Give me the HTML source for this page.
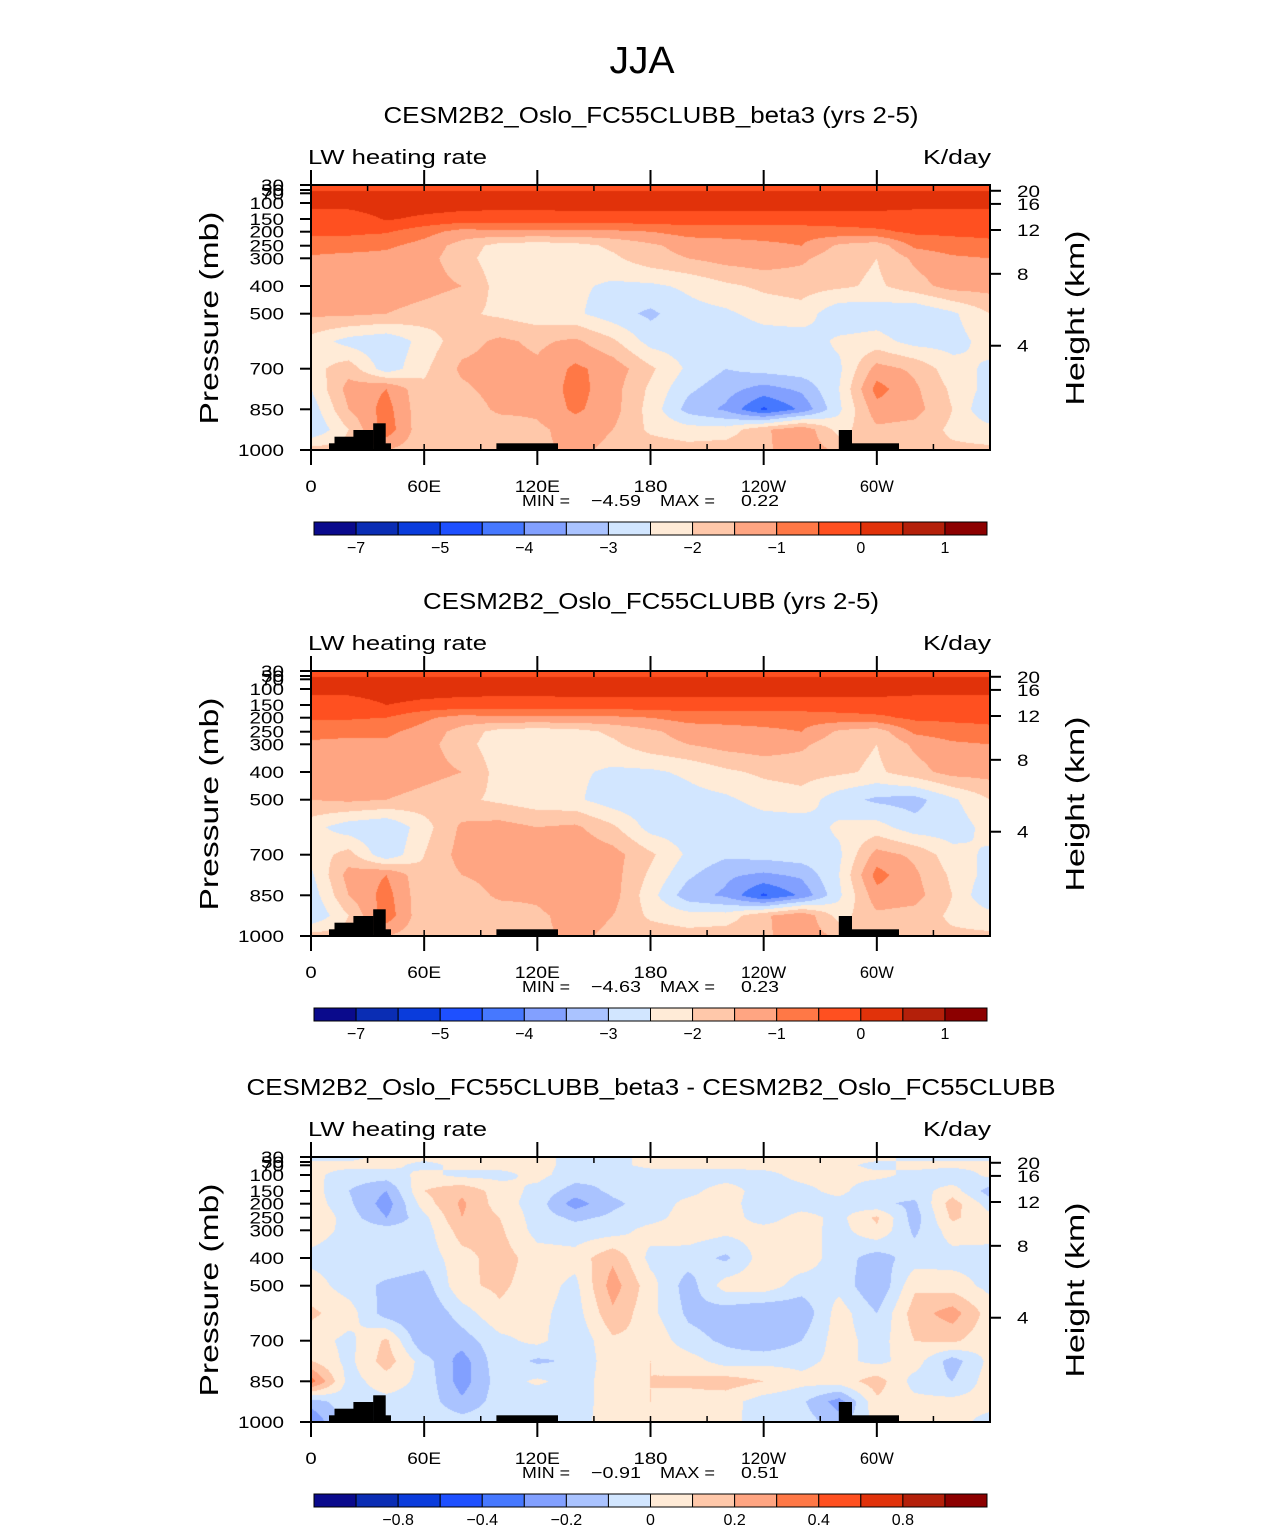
<!DOCTYPE html>
<html><head><meta charset="utf-8">
<style>
html,body{margin:0;padding:0;background:#fff;}
#page{position:relative;width:1285px;height:1531px;overflow:hidden;background:#fff;font-family:"Liberation Sans",sans-serif;}
canvas{position:absolute;}
svg{position:absolute;left:0;top:0;}
</style></head>
<body>
<div id="page">
<canvas id="c0" width="679" height="265" style="left:311px;top:185px"></canvas>
<canvas id="c1" width="679" height="265" style="left:311px;top:671px"></canvas>
<canvas id="c2" width="679" height="265" style="left:311px;top:1157px"></canvas>
<svg id="ov" width="1285" height="1531">
<text x="642" y="73" font-size="38" text-anchor="middle" textLength="65" lengthAdjust="spacingAndGlyphs">JJA</text>
</svg>
</div>
<script>
const lons=[0,20,40,60,80,100,120,140,160,180,200,220,240,260,280,300,320,340,360];
const pressures=[30,70,100,150,200,250,300,400,500,600,700,775,850,925,1000];
const levelsAbs=[-7,-6,-5,-4.5,-4,-3.5,-3,-2.5,-2,-1.5,-1,-0.5,0,0.5,1];
const levelsDiff=[-1,-0.8,-0.6,-0.4,-0.3,-0.2,-0.1,0,0.1,0.2,0.3,0.4,0.6,0.8,1];
const cbLabelsAbs=["-7","-5","-4","-3","-2","-1","0","1"];
const cbLabelIdxAbs=[1,3,5,7,9,11,13,15];
const cbLabelsDiff=["-0.8","-0.4","-0.2","0","0.2","0.4","0.8"];
const cbLabelIdxDiff=[2,4,6,8,10,12,14];
const xTickLabels=["0","60E","120E","180","120W","60W"];
const xTickLons=[0,60,120,180,240,300];
const pTickLabels=["30","50","70","100","150","200","250","300","400","500","700","850","1000"];
const pTickValues=[30,50,70,100,150,200,250,300,400,500,700,850,1000];
const hTickLabels=["20","16","12","8","4"];
const panelTitles=["CESM2B2_Oslo_FC55CLUBB_beta3 (yrs 2-5)","CESM2B2_Oslo_FC55CLUBB (yrs 2-5)","CESM2B2_Oslo_FC55CLUBB_beta3 - CESM2B2_Oslo_FC55CLUBB"];
const minVals=["\u22124.59","\u22124.63","\u22120.91"];
const maxVals=["0.22","0.23","0.51"];

const p1Values=[
[-0.3,-0.3,-0.3,-0.3,-0.3,-0.3,-0.3,-0.3,-0.3,-0.3,-0.3,-0.3,-0.3,-0.3,-0.3,-0.3,-0.3,-0.3,-0.3],
[0.15,0.15,0.15,0.15,0.15,0.15,0.15,0.15,0.15,0.15,0.15,0.15,0.15,0.15,0.15,0.15,0.15,0.15,0.15],
[0.2,0.2,0.3,0.25,0.2,0.2,0.2,0.2,0.2,0.2,0.2,0.2,0.2,0.2,0.2,0.2,0.2,0.2,0.2],
[-0.3,-0.3,0.05,-0.1,-0.2,-0.25,-0.25,-0.2,-0.2,-0.2,-0.2,-0.2,-0.2,-0.2,-0.2,-0.2,-0.3,-0.3,-0.3],
[-0.4,-0.4,-0.45,-0.8,-1.2,-1.1,-1.1,-1.1,-1.1,-1.0,-0.8,-0.8,-0.8,-0.8,-0.7,-0.6,-0.4,-0.4,-0.4],
[-0.7,-0.75,-0.9,-1.2,-1.7,-2.2,-2.3,-2.2,-1.9,-1.6,-1.3,-1.2,-1.1,-1.0,-1.6,-1.8,-0.9,-0.7,-0.6],
[-1.1,-1.2,-1.2,-1.3,-1.8,-2.3,-2.3,-2.2,-2.1,-1.7,-1.5,-1.3,-1.2,-1.4,-1.8,-2.0,-1.4,-1.1,-1.0],
[-1.3,-1.1,-1.15,-1.3,-1.5,-2.2,-2.3,-2.4,-2.6,-2.6,-2.4,-2.1,-1.9,-1.8,-1.9,-2.1,-1.7,-1.3,-1.3],
[-1.4,-1.4,-1.5,-1.7,-1.9,-2.1,-2.3,-2.4,-2.8,-3.1,-2.7,-2.6,-2.3,-2.2,-2.9,-2.8,-3.0,-2.6,-2.0],
[-2.2,-2.7,-2.9,-2.3,-1.7,-1.4,-1.6,-1.4,-1.9,-2.7,-2.8,-2.9,-2.8,-2.8,-2.4,-2.3,-2.7,-2.7,-2.3],
[-2.2,-1.7,-2.8,-2.1,-1.4,-1.3,-1.4,-0.9,-1.2,-1.9,-2.6,-3.0,-2.8,-2.7,-2.6,-1.3,-1.6,-2.3,-2.6],
[-2.5,-1.3,-1.0,-1.9,-1.6,-1.3,-1.4,-0.8,-1.3,-2.1,-2.9,-3.3,-3.7,-3.4,-2.5,-0.8,-1.4,-2.1,-2.7],
[-2.8,-1.5,-0.8,-1.9,-1.8,-1.4,-1.4,-0.9,-1.3,-2.2,-3.2,-3.6,-4.6,-3.9,-2.6,-1.2,-1.3,-2.0,-3.0],
[-3.0,-2.0,-0.7,-1.9,-1.8,-1.8,-1.6,-1.3,-1.5,-2.1,-2.3,-2.3,-1.6,-1.1,-2.2,-1.6,-1.7,-2.1,-2.3],
[-1.8,-1.8,-1.5,-1.8,-1.8,-2.0,-1.6,-1.4,-1.6,-1.7,-1.8,-1.7,-1.6,-1.2,-1.6,-1.7,-1.8,-1.9,-1.9]
];
const p2Values=[
[-0.3,-0.3,-0.3,-0.3,-0.3,-0.3,-0.3,-0.3,-0.3,-0.3,-0.3,-0.3,-0.3,-0.3,-0.3,-0.3,-0.3,-0.3,-0.3],
[0.15,0.15,0.15,0.15,0.15,0.15,0.15,0.15,0.15,0.15,0.15,0.15,0.15,0.15,0.15,0.15,0.15,0.15,0.15],
[0.2,0.2,0.3,0.25,0.2,0.2,0.2,0.2,0.2,0.2,0.2,0.2,0.2,0.2,0.2,0.2,0.2,0.2,0.2],
[-0.3,-0.3,0.0,-0.15,-0.2,-0.25,-0.25,-0.2,-0.2,-0.2,-0.2,-0.2,-0.2,-0.2,-0.2,-0.2,-0.3,-0.3,-0.3],
[-0.45,-0.45,-0.5,-0.9,-1.2,-1.1,-1.1,-1.1,-1.1,-1.0,-0.8,-0.8,-0.8,-0.8,-0.7,-0.6,-0.4,-0.4,-0.4],
[-0.8,-0.8,-0.9,-1.2,-1.7,-2.2,-2.3,-2.2,-1.9,-1.6,-1.3,-1.2,-1.1,-1.0,-1.6,-1.8,-0.9,-0.7,-0.6],
[-1.1,-1.2,-1.1,-1.3,-1.8,-2.3,-2.3,-2.2,-2.1,-1.7,-1.5,-1.3,-1.2,-1.4,-1.8,-2.0,-1.4,-1.1,-1.0],
[-1.3,-1.1,-1.1,-1.3,-1.5,-2.2,-2.3,-2.4,-2.6,-2.6,-2.4,-2.1,-1.9,-1.8,-1.9,-2.1,-1.7,-1.3,-1.3],
[-1.5,-1.4,-1.5,-1.7,-1.9,-2.1,-2.3,-2.4,-2.8,-2.9,-2.7,-2.6,-2.3,-2.2,-2.8,-3.1,-3.2,-2.6,-2.0],
[-2.3,-2.8,-3.0,-2.2,-1.4,-1.3,-1.5,-1.4,-1.9,-2.7,-2.8,-2.9,-2.8,-2.8,-2.4,-2.3,-2.8,-2.8,-2.3],
[-2.3,-1.8,-2.9,-2.0,-1.3,-1.3,-1.3,-1.1,-1.3,-1.9,-2.6,-2.9,-2.8,-2.7,-2.6,-1.3,-1.6,-2.3,-2.6],
[-2.6,-1.3,-1.0,-1.9,-1.5,-1.3,-1.4,-1.0,-1.3,-2.1,-2.9,-3.4,-3.6,-3.4,-2.5,-0.8,-1.4,-2.1,-2.7],
[-2.8,-1.5,-0.8,-1.9,-1.8,-1.4,-1.4,-1.0,-1.3,-2.3,-3.3,-3.6,-4.6,-3.9,-2.6,-1.2,-1.3,-2.0,-3.0],
[-3.0,-2.0,-0.7,-1.9,-1.8,-1.8,-1.6,-1.3,-1.5,-2.1,-2.3,-2.3,-1.6,-1.1,-2.2,-1.6,-1.7,-2.1,-2.3],
[-1.8,-1.8,-1.5,-1.8,-1.8,-2.0,-1.6,-1.4,-1.6,-1.7,-1.8,-1.7,-1.6,-1.2,-1.6,-1.7,-1.8,-1.9,-1.9]
];
const p3Values=[
[-0.03,-0.03,0.03,0.03,0.03,0.03,0.03,-0.03,-0.03,0.03,0.03,0.03,0.03,0.03,0.03,0.03,-0.03,-0.03,-0.03],
[0.03,0.03,0.03,-0.03,0.03,0.03,0.03,-0.03,-0.03,0.03,0.03,0.03,0.03,0.03,0.03,-0.03,0.03,0.03,0.03],
[0.03,-0.05,-0.05,0.03,-0.03,-0.03,0.03,-0.05,-0.08,-0.06,-0.05,-0.05,-0.03,0.03,0.03,0.03,-0.03,-0.08,0.03],
[0.05,-0.1,-0.2,0.1,0.18,0.05,-0.03,-0.15,-0.08,-0.05,-0.03,0.05,-0.05,-0.03,0.03,-0.08,-0.05,0.05,-0.15],
[0.06,-0.08,-0.25,0.05,0.22,0.05,-0.05,-0.25,-0.12,-0.06,0.03,0.04,-0.06,-0.05,-0.04,-0.08,-0.12,0.15,-0.05],
[0.1,-0.05,-0.2,-0.03,0.2,0.1,-0.05,-0.12,-0.08,-0.04,0.05,0.05,-0.05,0.04,-0.03,0.12,-0.15,0.12,0.03],
[0.05,-0.03,-0.05,-0.05,0.15,0.12,-0.04,-0.06,-0.05,0.04,0.06,0.03,0.04,0.05,-0.04,0.08,-0.12,0.05,0.03],
[-0.03,-0.05,-0.03,-0.06,0.06,0.15,0.05,0.04,0.18,-0.03,-0.05,-0.12,0.05,0.06,-0.05,-0.15,-0.05,-0.04,-0.03],
[0.05,-0.05,-0.12,-0.15,0.08,0.12,0.05,-0.03,0.25,0.04,-0.15,0.05,0.06,-0.05,-0.03,-0.2,0.08,0.05,-0.03],
[0.12,0.05,-0.15,-0.2,-0.05,0.08,0.03,-0.05,0.18,0.03,-0.12,-0.16,-0.2,-0.18,0.05,-0.1,0.15,0.25,0.05],
[0.05,-0.03,0.12,-0.2,-0.15,-0.03,0.03,-0.08,0.08,0.08,-0.06,-0.12,-0.18,-0.1,0.05,-0.05,0.1,0.12,0.03],
[0.1,-0.03,0.15,-0.05,-0.25,-0.03,-0.12,-0.08,0.06,0.1,0.05,-0.05,-0.03,-0.03,0.03,-0.03,0.05,-0.15,0.03],
[0.35,-0.04,0.05,-0.03,-0.25,-0.05,0.02,-0.05,0.05,0.1,0.12,0.15,0.1,0.03,0.05,0.15,-0.04,-0.1,0.05],
[-0.15,-0.04,-0.03,-0.04,-0.18,-0.05,-0.08,-0.05,0.05,0.1,0.06,0.04,-0.05,-0.08,-0.25,0.08,0.03,0.03,0.03],
[-0.3,-0.03,-0.03,-0.03,-0.05,-0.04,-0.05,-0.04,0.05,0.08,0.04,0.03,-0.04,-0.05,-0.15,0.03,0.03,0.03,-0.03]
];
const palette=["#0A0A8C","#0A2DB4","#0A3CDC","#1E50FF","#4678FF","#82A0FF","#AAC3FF","#D2E6FF","#FFEBD7","#FFC8AA","#FFA582","#FF7846","#FF5020","#E1320A","#B4200A","#8C0000"];

const PLOT_L=311, PLOT_W=679, PLOT_H=265, PANEL_TOP=[185,671,1157];
const pKnots=[30,50,70,100,150,200,250,300,400,500,700,850,1000];
const yKnots=[1.7,5,8.3,18,34,46.7,60.7,73.3,101,128.7,183.7,224.3,265];
function yOfP(p){
  if(p<=pKnots[0]) return 0;
  for(let i=0;i<pKnots.length-1;i++){
    if(p<=pKnots[i+1]){const t=(p-pKnots[i])/(pKnots[i+1]-pKnots[i]);return yKnots[i]+t*(yKnots[i+1]-yKnots[i]);}
  }
  return PLOT_H;
}
function xOfLon(l){return l/360*PLOT_W;}
const hKm=[20,16,12,8,4];
function yOfKm(h){
  const p=1013.25*Math.pow(1-h*1000*0.0065/288.15,5.255);
  const pp=h>11?226.3*Math.exp(-(h-11)/6.34):p;
  return yOfP(pp);
}

function hexToRgb(h){return [parseInt(h.substr(1,2),16),parseInt(h.substr(3,2),16),parseInt(h.substr(5,2),16)];}
const palRgb=palette.map(hexToRgb);

function drawField(canvasId,grid,levels){
  const cv=document.getElementById(canvasId);
  const ctx=cv.getContext('2d');
  const img=ctx.createImageData(PLOT_W,PLOT_H);
  const rowY=pressures.map(yOfP); rowY[0]=0;
  const colX=lons.map(xOfLon);
  for(let py=0;py<PLOT_H;py++){
    const yy=py+0.5;
    let r=0; while(r<rowY.length-2 && yy>rowY[r+1]) r++;
    let ty=(yy-rowY[r])/(rowY[r+1]-rowY[r]); ty=Math.max(0,Math.min(1,ty));
    for(let px=0;px<PLOT_W;px++){
      const xx=px+0.5;
      let c=0; while(c<colX.length-2 && xx>colX[c+1]) c++;
      let tx=(xx-colX[c])/(colX[c+1]-colX[c]);
      const v=(grid[r][c]*(1-tx)+grid[r][c+1]*tx)*(1-ty)+(grid[r+1][c]*(1-tx)+grid[r+1][c+1]*tx)*ty;
      let k=0; while(k<levels.length && v>=levels[k]) k++;
      const col=palRgb[k]; const o=(py*PLOT_W+px)*4;
      img.data[o]=col[0];img.data[o+1]=col[1];img.data[o+2]=col[2];img.data[o+3]=255;
    }
  }
  ctx.putImageData(img,0,0);
}
drawField('c0',p1Values,levelsAbs);
drawField('c1',p2Values,levelsAbs);
drawField('c2',p3Values,levelsDiff);

const NS="http://www.w3.org/2000/svg";
const svg=document.getElementById('ov');
function mk(tag,attrs,txt){const e=document.createElementNS(NS,tag);for(const k in attrs)e.setAttribute(k,attrs[k]);if(txt!==undefined)e.textContent=txt;svg.appendChild(e);return e;}

const titleLens=[535,456,809];
for(let pi=0;pi<3;pi++){
  const T=PANEL_TOP[pi];
  let e;
  e=mk('text',{x:651,y:T-62,'font-size':23,'text-anchor':'middle',textLength:titleLens[pi],lengthAdjust:'spacingAndGlyphs'},panelTitles[pi]);
  
  
  e=mk('text',{x:308,y:T-21,'font-size':20,textLength:179,lengthAdjust:'spacingAndGlyphs'},'LW heating rate');
  
  
  e=mk('text',{x:923,y:T-21,'font-size':20,textLength:68,lengthAdjust:'spacingAndGlyphs'},'K/day');
  
  
  const topo=[[329,443.3,5.5,7],[334.5,436.7,19,14],[353.4,430,20,21],[373.2,423.3,12.5,27],[385.5,443.3,5.5,7],[496.4,443.3,61.6,7],[838.8,430,13.2,20],[852,443.3,47,7]];
  topo.forEach(t=>{e=mk('rect',{x:t[0],y:t[1]-185+T,width:t[2],height:t[3],fill:'#000'});
    
    });
  e=mk('rect',{x:PLOT_L,y:T,width:PLOT_W,height:PLOT_H,fill:'none',stroke:'#000','stroke-width':2});
  
  
  for(let l=0;l<=360;l+=30){
    const x=PLOT_L+xOfLon(l); const major=l%60===0;
    mk('line',{x1:x,x2:x,y1:T,y2:T+6,stroke:'#000','stroke-width':1.5});
    mk('line',{x1:x,x2:x,y1:T+PLOT_H,y2:T+PLOT_H-6,stroke:'#000','stroke-width':1.5});
    if(major&&l<360){
      mk('line',{x1:x,x2:x,y1:T-15,y2:T,stroke:'#000','stroke-width':2});
      mk('line',{x1:x,x2:x,y1:T+PLOT_H,y2:T+PLOT_H+15,stroke:'#000','stroke-width':2});
    }
  }
  xTickLabels.forEach((s,i)=>{e=mk('text',{x:PLOT_L+xOfLon(xTickLons[i]),y:T+PLOT_H+42,'font-size':17,'text-anchor':'middle',textLength:s.length*11.3,lengthAdjust:'spacingAndGlyphs'},s);
    
    });
  pTickValues.forEach((p,i)=>{
    const y=T+yOfP(p);
    mk('line',{x1:PLOT_L-11,x2:PLOT_L,y1:y,y2:y,stroke:'#000','stroke-width':2});
    const s=pTickLabels[i];
    e=mk('text',{x:284,y:y+6,'font-size':17,'text-anchor':'end',textLength:s.length*11.5,lengthAdjust:'spacingAndGlyphs'},s);
    
    
  });
  hKm.forEach((h,i)=>{
    const y=T+yOfKm(h);
    mk('line',{x1:PLOT_L+PLOT_W,x2:PLOT_L+PLOT_W+11,y1:y,y2:y,stroke:'#000','stroke-width':2});
    const s=hTickLabels[i];
    e=mk('text',{x:1017,y:y+6,'font-size':17,textLength:s.length*11.5,lengthAdjust:'spacingAndGlyphs'},s);
    
    
  });
  e=mk('text',{x:0,y:0,'font-size':26,'text-anchor':'middle',textLength:213,lengthAdjust:'spacingAndGlyphs',transform:`translate(218,${T+133}) rotate(-90)`},'Pressure (mb)');
  
  
  e=mk('text',{x:0,y:0,'font-size':26,'text-anchor':'middle',textLength:175,lengthAdjust:'spacingAndGlyphs',transform:`translate(1084,${T+133}) rotate(-90)`},'Height (km)');
  
  
  const by=T+PLOT_H+56;
  [['MIN =',522,48],[minVals[pi],591,50],['MAX =',660,55],[maxVals[pi],741,38]].forEach(a=>{
    e=mk('text',{x:a[1],y:by,'font-size':16,textLength:a[2],lengthAdjust:'spacingAndGlyphs'},a[0]);
    
    
  });
  const cy=T+337, cx=314, bw=(987-314)/16;
  for(let k=0;k<16;k++){
    e=mk('rect',{x:cx+k*bw,y:cy,width:bw,height:13,fill:palette[k],stroke:'#000','stroke-width':1});
    
    
  }
  const labs=pi<2?cbLabelsAbs:cbLabelsDiff, idx=pi<2?cbLabelIdxAbs:cbLabelIdxDiff;
  labs.forEach((s,i)=>{e=mk('text',{x:cx+idx[i]*bw,y:cy+31,'font-size':16,'text-anchor':'middle'},s.replace('-','\u2212'));
    
    });
}
</script>
</body></html>
